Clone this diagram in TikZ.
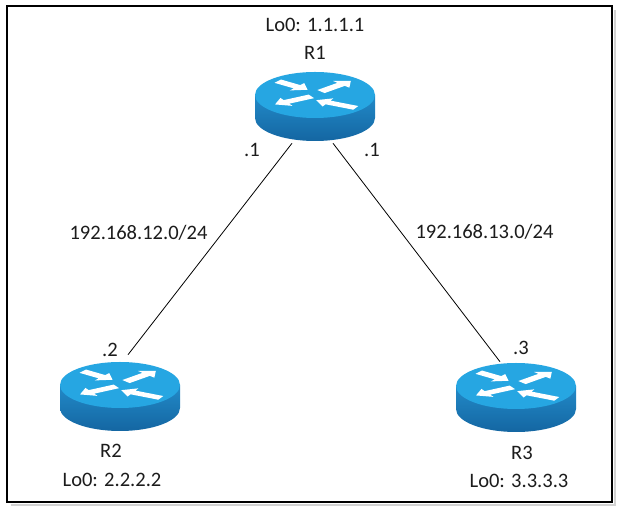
\documentclass[tikz,border=0pt]{standalone}
\usepackage{fontspec}
\setmainfont{Carlito}
\definecolor{rtop}{RGB}{38,166,226}
\definecolor{rbodyT}{RGB}{34,138,200}
\definecolor{rbodyB}{RGB}{20,102,162}
\definecolor{txt}{RGB}{28,28,28}
\tikzset{
  lbl/.style={anchor=base, inner sep=0pt, text=txt, font=\fontsize{15.4}{18}\selectfont},
  link/.style={line width=0.6pt, draw=black},
  rtr/.style={inner sep=0pt, minimum width=90pt, minimum height=51.75pt},
  frame/.style={line width=2.2pt, draw=black},
  rarrowfill/.style={fill=white},
}
\newcommand{\rar}[4]{%
  \begin{scope}[shift={(#1,#2)}, rotate={-(#3)}]
    \fill[rarrowfill] (0,-0.09) -- ({#4-0.22},-0.09) -- ({#4-0.22},-0.2) -- (#4,0)
      -- ({#4-0.22},0.2) -- ({#4-0.22},0.09) -- (0,0.09) -- cycle;
  \end{scope}}
\newcommand{\router}[3]{%
  \begin{scope}[shift={(#2,#3)}]
    \shade[top color=rbodyT, bottom color=rbodyB] (-60,0) -- (-60,23)
      arc[start angle=180, end angle=0, x radius=60, y radius=23] -- (60,0) -- cycle;
    \fill[rtop] (0,0) ellipse[x radius=60, y radius=23];
    \begin{scope}[xscale=60, yscale=23]
      \rar{-0.62}{-0.60}{37}{0.62}
      \rar{0.10}{-0.15}{-43}{0.68}
      \rar{-0.06}{0.06}{150}{0.70}
      \rar{0.68}{0.56}{207}{0.74}
    \end{scope}
    \node[rtr] (#1) at (0,11.5) {};
  \end{scope}}
\begin{document}
\begin{tikzpicture}[x=0.75pt, y=-0.75pt]
  \fill[white] (0,0) rectangle (619,509);
  \useasboundingbox (0,0) rectangle (619,509);
  \draw[gray!35, line width=1.4pt] (11,505) -- (615,505) -- (615,10);
  \draw[frame] (7,6) rectangle (612,502);

  \router{R1}{315}{95}
  \router{R2}{120}{385}
  \router{R3}{516}{386}

  \coordinate (r1l) at ([shift={(-23,2)}]R1.south);
  \coordinate (r1r) at ([shift={(18,2)}]R1.south);
  \coordinate (r2t) at ([shift={(8,-7)}]R2.north);
  \coordinate (r3t) at ([shift={(-16,-1)}]R3.north);
  \draw[link] (r1l) -- (r2t);
  \draw[link] (r1r) -- (r3t);

  \node[lbl] (lo1) at (315,32) {Lo0: 1.1.1.1};
  \node[lbl] (n1) at (315,60) {R1};
  \node[lbl] (d1a) at (252,157) {.1};
  \node[lbl] (d1b) at (372,157) {.1};
  \node[lbl] (d2) at (110,357) {.2};
  \node[lbl] (d3) at (521,355) {.3};
  \node[lbl] (n2) at (111,458) {R2};
  \node[lbl] (lo2) at (112,487) {Lo0: 2.2.2.2};
  \node[lbl] (n3) at (522,460) {R3};
  \node[lbl] (lo3) at (519,488) {Lo0: 3.3.3.3};
  \node[lbl] (net12) at (138.5,240) {192.168.12.0/24};
  \node[lbl] (net13) at (484.5,239) {192.168.13.0/24};
\end{tikzpicture}
\end{document}
